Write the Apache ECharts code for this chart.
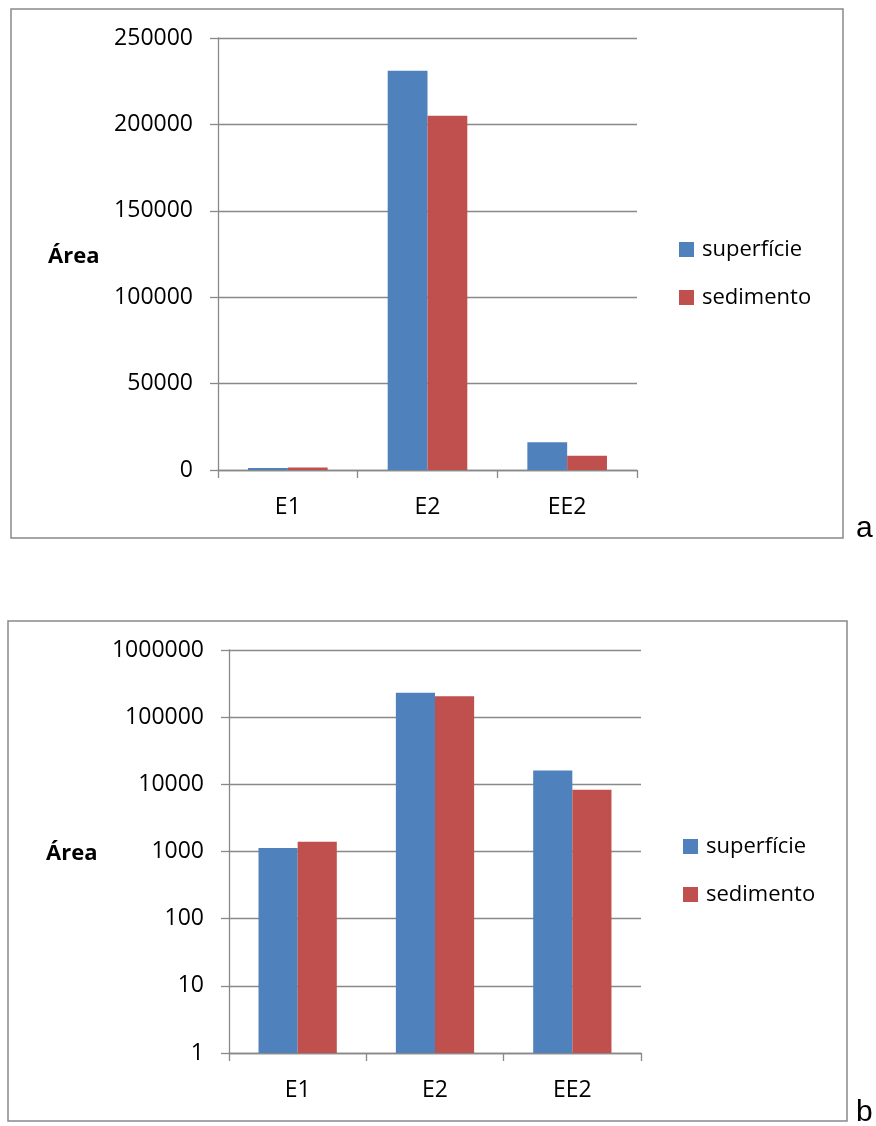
<!DOCTYPE html>
<html><head><meta charset="utf-8">
<script src="https://cdn.jsdelivr.net/npm/echarts@6/dist/echarts.min.js"></script>
<style>html,body{margin:0;padding:0;background:#fff}#c{width:876px;height:1126px}</style>
</head><body><div id="c"></div>
<script>
const categories = ['E1', 'E2', 'EE2'];
const seriesNames = ['superfície', 'sedimento'];
const superficie = [1130, 231000, 16000];
const sedimento = [1400, 205000, 8300];
const linearTicks = [0, 50000, 100000, 150000, 200000, 250000];
const logTicks = [1, 10, 100, 1000, 10000, 100000, 1000000];
const axisTitle = 'Área';
const panelLabels = ['a', 'b'];

const FONT = '"Open Sans", sans-serif';
const GRAY = '#898989';
const colors = ['#4F81BD', '#C0504D'];

const chart = echarts.init(document.getElementById('c'), null, {renderer: 'canvas'});

function xAx(gridIndex) {
  return {
    type: 'category', gridIndex, data: categories,
    axisLine: {show: true, lineStyle: {color: GRAY, width: 1.3}},
    axisTick: {show: true, length: 8, lineStyle: {color: GRAY, width: 1.3}},
    axisLabel: {color: '#000', fontFamily: FONT, fontSize: 23, margin: 26},
    splitLine: {show: false}
  };
}
function yCommon() {
  return {
    axisLine: {show: true, lineStyle: {color: GRAY, width: 1.3}},
    axisTick: {show: true, length: 8, lineStyle: {color: GRAY, width: 1.3}},
    axisLabel: {color: '#000', fontFamily: FONT, fontSize: 23, margin: 25,
      formatter: v => String(Math.round(v))},
    splitLine: {show: true, lineStyle: {color: GRAY, width: 1.3}}
  };
}

const legendText = {fontFamily: FONT, fontSize: 22, color: '#000', lineHeight: 24, padding: [0, 0, 0, 3]};

const option = {
  animation: false,
  backgroundColor: '#fff',
  color: colors,
  grid: [
    {left: 218, top: 38, width: 419, height: 432},
    {left: 229, top: 650, width: 412, height: 403}
  ],
  xAxis: [xAx(0), xAx(1)],
  yAxis: [
    Object.assign(yCommon(), {type: 'value', gridIndex: 0,
      min: linearTicks[0], max: linearTicks[linearTicks.length - 1],
      interval: linearTicks[1] - linearTicks[0]}),
    Object.assign(yCommon(), {type: 'log', logBase: 10, gridIndex: 1,
      min: logTicks[0], max: logTicks[logTicks.length - 1]})
  ],
  legend: [
    {orient: 'vertical', left: 679, top: 237.5, padding: 0, itemWidth: 15, itemHeight: 15, itemGap: 24,
      icon: 'rect', data: seriesNames, textStyle: legendText},
    {orient: 'vertical', left: 683, top: 834.5, padding: 0, itemWidth: 15, itemHeight: 15, itemGap: 24,
      icon: 'rect', data: seriesNames, textStyle: legendText}
  ],
  series: [
    {name: seriesNames[0], type: 'bar', xAxisIndex: 0, yAxisIndex: 0, data: superficie,
      barGap: '0%', barCategoryGap: '43%', itemStyle: {color: colors[0]}},
    {name: seriesNames[1], type: 'bar', xAxisIndex: 0, yAxisIndex: 0, data: sedimento,
      barGap: '0%', barCategoryGap: '43%', itemStyle: {color: colors[1]}},
    {name: seriesNames[0], type: 'bar', xAxisIndex: 1, yAxisIndex: 1, data: superficie,
      barGap: '0%', barCategoryGap: '43%', itemStyle: {color: colors[0]}},
    {name: seriesNames[1], type: 'bar', xAxisIndex: 1, yAxisIndex: 1, data: sedimento,
      barGap: '0%', barCategoryGap: '43%', itemStyle: {color: colors[1]}}
  ],
  graphic: [
    {type: 'rect', shape: {x: 11, y: 9, width: 832, height: 529}, z: -1,
      style: {fill: 'none', stroke: GRAY, lineWidth: 1.5}},
    {type: 'rect', shape: {x: 8, y: 621, width: 839, height: 500}, z: -1,
      style: {fill: 'none', stroke: GRAY, lineWidth: 1.5}},
    {type: 'text', left: 48, top: 246, style: {text: axisTitle, fontFamily: FONT, fontSize: 22, fontWeight: 'bold', fill: '#000'}},
    {type: 'text', left: 46, top: 843, style: {text: axisTitle, fontFamily: FONT, fontSize: 22, fontWeight: 'bold', fill: '#000'}},
    {type: 'text', left: 856, top: 514, style: {text: panelLabels[0], fontFamily: '"Liberation Sans", Arial, sans-serif', fontSize: 30, fill: '#000'}},
    {type: 'text', left: 856, top: 1098, style: {text: panelLabels[1], fontFamily: '"Liberation Sans", Arial, sans-serif', fontSize: 30, fill: '#000'}}
  ]
};
chart.setOption(option);
</script>
</body></html>
